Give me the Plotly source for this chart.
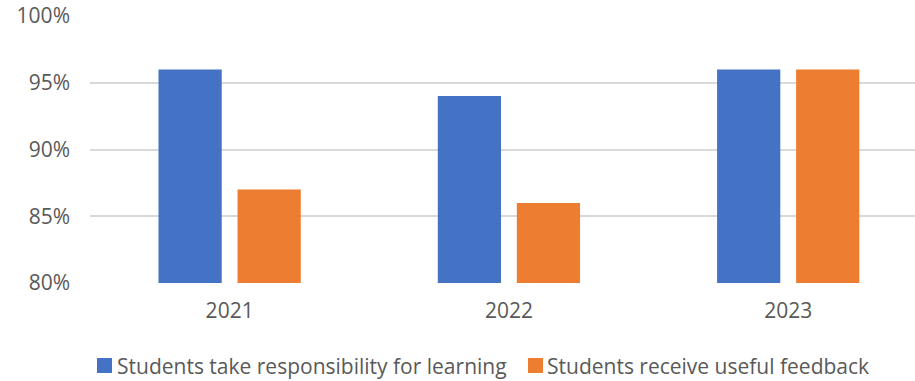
import plotly.graph_objects as go

# Survey results by year (percent of students agreeing)
years = ["2021", "2022", "2023"]
responsibility = [96, 94, 96]
feedback = [87, 86, 96]
y_ticks = [80, 85, 90, 95, 100]

series_names = ["Students take responsibility for learning",
                "Students receive useful feedback"]
series_colors = ["#4472C4", "#ED7D31"]

FONT = "Open Sans"
TEXT_COLOR = "#595959"
FS = 21

W, H = 915, 381
ML, MR, MT, MB = 90, 0, 16, 98
PW, PH = W - ML - MR, H - MT - MB

fig = go.Figure()
for name, vals, col in zip(series_names, [responsibility, feedback], series_colors):
    fig.add_trace(go.Bar(
        name=name, x=years, y=vals,
        marker=dict(color=col, line=dict(width=0)),
    ))


def px_x(px):
    return (px - ML) / PW


def px_y(py):
    return (H - MB - py) / PH


# Legend row drawn below the plot: square swatch followed by its label
legend_items = [(97, 117), (528, 547)]
for (sx, tx), name, col in zip(legend_items, series_names, series_colors):
    fig.add_shape(
        type="rect", xref="paper", yref="paper",
        x0=px_x(sx), x1=px_x(sx + 15), y0=px_y(373), y1=px_y(358),
        fillcolor=col, line=dict(width=0),
    )
    fig.add_annotation(
        xref="paper", yref="paper", x=px_x(tx - 2), y=px_y(365.5),
        xanchor="left", yanchor="middle", showarrow=False,
        text=name, font=dict(family=FONT, size=FS, color=TEXT_COLOR),
    )

fig.update_layout(
    width=W, height=H,
    margin=dict(l=ML, r=MR, t=MT, b=MB, autoexpand=False),
    paper_bgcolor="white", plot_bgcolor="white",
    barmode="group",
    bargap=0.434,
    bargroupgap=0.2,
    font=dict(family=FONT, size=FS, color=TEXT_COLOR),
    showlegend=False,
    xaxis=dict(
        type="category",
        range=[-0.5, 2.454],
        showgrid=False, zeroline=False,
        showline=False,
        ticks="",
        ticklabelstandoff=13,
        tickfont=dict(family=FONT, size=FS, color=TEXT_COLOR),
    ),
    yaxis=dict(
        range=[80, 100],
        tickvals=y_ticks,
        ticktext=[f"{v}%" for v in y_ticks],
        showgrid=True, gridcolor="#D9D9D9", gridwidth=1.5,
        zeroline=False, showline=False,
        ticks="",
        ticklabelstandoff=19,
        tickfont=dict(family=FONT, size=FS, color=TEXT_COLOR),
    ),
)

fig.write_html("out.html")
